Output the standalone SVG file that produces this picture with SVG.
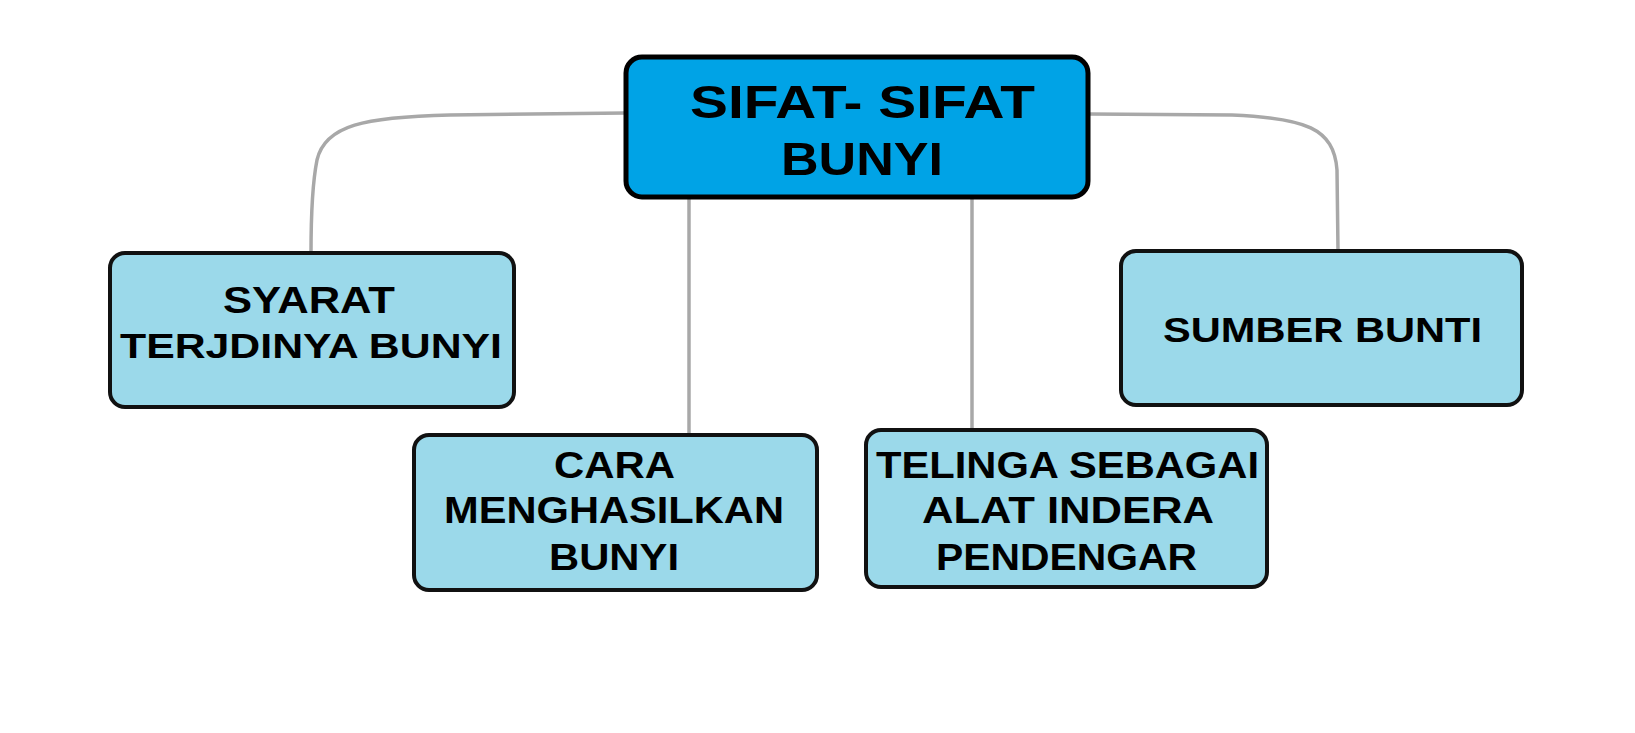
<svg xmlns="http://www.w3.org/2000/svg" width="1635" height="733" viewBox="0 0 1635 733">
<style>
.conn{fill:none;stroke:#a8a8a8;stroke-width:3.5;stroke-linecap:round}
.main{fill:#00a3e6;stroke:#000;stroke-width:5}
.sub{fill:#9bd9ea;stroke:#111;stroke-width:4}
.t{font-family:"Liberation Sans",Arial,sans-serif;font-weight:bold;fill:#000}
.big{font-size:46px}
.mid{font-size:37px}
.sm{font-size:35px}
</style>
<rect width="1635" height="733" fill="#fff"/>
<g id="connectors">
<path class="conn" d="M626,113 L450,115 C365,117 325,125 317,160 C312,185 311,215 311,253"/>
<path class="conn" d="M1089,114 L1232,115 C1305,118 1334,128 1337,170 L1338,251"/>
<path class="conn" d="M689,198 L689,435"/>
<path class="conn" d="M972,198 L972,430"/>
</g>
<g id="node-main">
<rect class="main" x="626" y="57" width="462" height="140" rx="16"/>
<text class="t big" x="690" y="118" textLength="345" lengthAdjust="spacingAndGlyphs">SIFAT- SIFAT</text>
<text class="t big" x="781" y="175" textLength="162" lengthAdjust="spacingAndGlyphs">BUNYI</text>
</g>
<g id="node-syarat">
<rect class="sub" x="110" y="253" width="404" height="154" rx="15"/>
<text class="t mid" x="223" y="313" textLength="172" lengthAdjust="spacingAndGlyphs">SYARAT</text>
<text class="t sm" x="120" y="358" textLength="382" lengthAdjust="spacingAndGlyphs">TERJDINYA BUNYI</text>
</g>
<g id="node-cara">
<rect class="sub" x="414" y="435" width="403" height="155" rx="15"/>
<text class="t mid" x="554" y="478" textLength="121" lengthAdjust="spacingAndGlyphs">CARA</text>
<text class="t mid" x="444" y="523" textLength="340" lengthAdjust="spacingAndGlyphs">MENGHASILKAN</text>
<text class="t mid" x="549" y="570" textLength="130" lengthAdjust="spacingAndGlyphs">BUNYI</text>
</g>
<g id="node-telinga">
<rect class="sub" x="866" y="430" width="401" height="157" rx="15"/>
<text class="t mid" x="876" y="478" textLength="383" lengthAdjust="spacingAndGlyphs">TELINGA SEBAGAI</text>
<text class="t mid" x="922" y="523" textLength="292" lengthAdjust="spacingAndGlyphs">ALAT INDERA</text>
<text class="t mid" x="936" y="570" textLength="261" lengthAdjust="spacingAndGlyphs">PENDENGAR</text>
</g>
<g id="node-sumber">
<rect class="sub" x="1121" y="251" width="401" height="154" rx="15"/>
<text class="t sm" x="1163" y="342" textLength="319" lengthAdjust="spacingAndGlyphs">SUMBER BUNTI</text>
</g>
</svg>
